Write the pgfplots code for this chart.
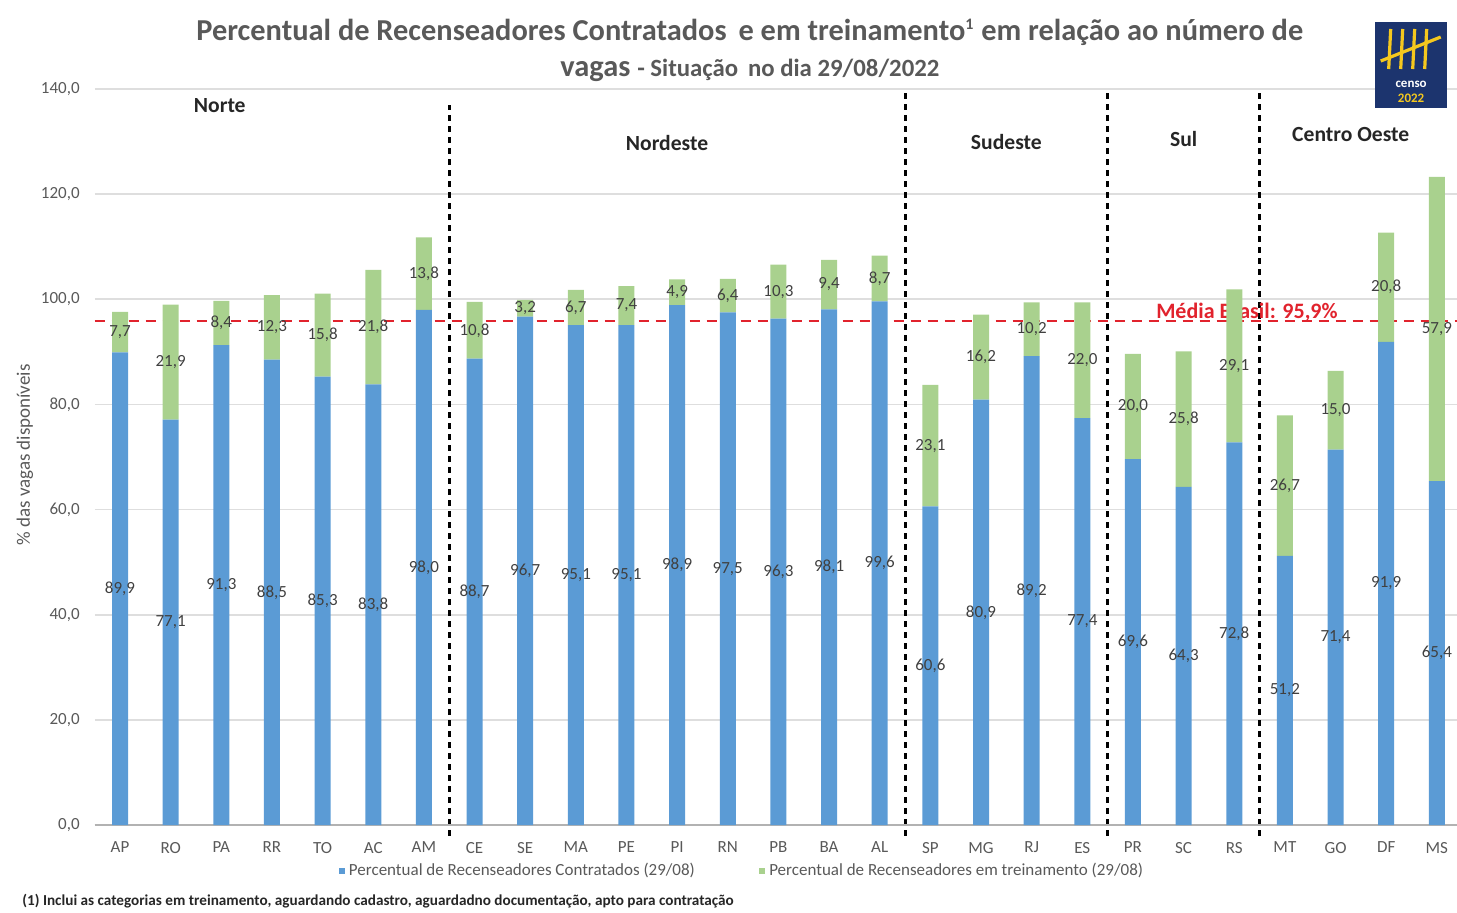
\documentclass[border=0pt]{standalone}
\usepackage{pgfplots}
\usepackage{pgfplotstable}
\pgfplotsset{compat=1.18}
\usepackage{fontspec}
\setmainfont{Carlito}
\definecolor{cblue}{RGB}{91,155,213}
\definecolor{cgreen}{RGB}{169,209,142}
\definecolor{tgray}{RGB}{89,89,89}
\definecolor{lgray}{RGB}{64,64,64}
\definecolor{mred}{RGB}{225,35,45}
\definecolor{navy}{RGB}{28,52,110}
\definecolor{gold}{RGB}{245,200,30}

\pgfplotstableread{
x lab c t
0 AP 89.9 7.7
1 RO 77.1 21.9
2 PA 91.3 8.4
3 RR 88.5 12.3
4 TO 85.3 15.8
5 AC 83.8 21.8
6 AM 98.0 13.8
7 CE 88.7 10.8
8 SE 96.7 3.2
9 MA 95.1 6.7
10 PE 95.1 7.4
11 PI 98.9 4.9
12 RN 97.5 6.4
13 PB 96.3 10.3
14 BA 98.1 9.4
15 AL 99.6 8.7
16 SP 60.6 23.1
17 MG 80.9 16.2
18 RJ 89.2 10.2
19 ES 77.4 22.0
20 PR 69.6 20.0
21 SC 64.3 25.8
22 RS 72.8 29.1
23 MT 51.2 26.7
24 GO 71.4 15.0
25 DF 91.9 20.8
26 MS 65.4 57.9
}\data

\begin{document}
\begin{tikzpicture}[x=1pt,y=1pt]
\path[use as bounding box] (-47.35,-43.5) rectangle (681.15,412.5);
\begin{axis}[
  at={(0,0)}, anchor=south west,
  scale only axis, width=681.2pt, height=368pt,
  ybar stacked, bar width=8pt,
  xmin=-0.5, xmax=26.4, ymin=0, ymax=140,
  clip=false,
  xtick=data, xticklabels from table={\data}{lab},
  ytick={0,20,...,140},
  yticklabel style={xshift=-4pt, /pgf/number format/.cd, fixed, fixed zerofill, precision=1, use comma, assume math mode=true},
  xticklabel style={yshift=-5pt},
  ticklabel style={font=\fontsize{8.5}{10}\selectfont, text=tgray},
  axis line style={draw=none},
  tick style={draw=none},
  ymajorgrids,
  grid style={draw=black!13, line width=0.8pt},
  point meta=rawy,
  nodes near coords={\pgfmathprintnumber[fixed,fixed zerofill,precision=1,use comma,assume math mode=true]{\pgfplotspointmeta}},
  nodes near coords style={font=\fontsize{8.5}{10}\selectfont, text=lgray, anchor=center},
  legend style={at={(0.4757,-0.0625)}, anchor=center, draw=none, fill=none, legend columns=2,
    font=\fontsize{8.5}{10}\selectfont, text=tgray,
    /tikz/every even column/.append style={column sep=30pt}},
  legend image code/.code={\fill[#1] (0pt,-1.6pt) rectangle (3.2pt,1.6pt);},
]
\addplot[fill=cblue, draw=none] table[x=x, y=c]{\data};
\addlegendentry{Percentual de Recenseadores Contratados (29/08)}
\addplot[fill=cgreen, draw=none] table[x=x, y=t]{\data};
\addlegendentry{Percentual de Recenseadores em treinamento (29/08)}

\draw[black!30, line width=0.8pt] (axis cs:-0.5,0) -- (axis cs:26.4,0);
\draw[mred, line width=1.3pt, dash pattern=on 5pt off 3.5pt] (axis cs:-0.5,95.9) -- (axis cs:26.4,95.9);

\node[font=\bfseries\fontsize{10.8}{12}\selectfont, text=black!85] at (axis cs:1.97,136.8) {Norte};
\node[font=\bfseries\fontsize{10.8}{12}\selectfont, text=black!85] at (axis cs:10.8,129.7) {Nordeste};
\node[font=\bfseries\fontsize{10.8}{12}\selectfont, text=black!85] at (axis cs:17.5,129.9) {Sudeste};
\node[font=\bfseries\fontsize{10.8}{12}\selectfont, text=black!85] at (axis cs:21.0,130.5) {Sul};
\node[font=\bfseries\fontsize{10.8}{12}\selectfont, text=black!85] at (axis cs:24.3,131.3) {Centro Oeste};
\node[font=\bfseries\fontsize{11}{12}\selectfont, text=mred] at (axis cs:22.25,97.6) {Média Brasil: 95,9\%};

\draw[black, line width=1.5pt, dash pattern=on 3pt off 2.5pt] (axis cs:6.5,-2) -- (axis cs:6.5,137);
\draw[black, line width=1.5pt, dash pattern=on 3pt off 2.5pt] (axis cs:15.5,-2) -- (axis cs:15.5,139.5);
\draw[black, line width=1.5pt, dash pattern=on 3pt off 2.5pt] (axis cs:19.5,-2) -- (axis cs:19.5,139.5);
\draw[black, line width=1.5pt, dash pattern=on 3pt off 2.5pt] (axis cs:22.5,-2) -- (axis cs:22.5,139.5);
\end{axis}

% title
\node[font=\bfseries\fontsize{15.2}{18}\selectfont, text=tgray] at (327.6,396.5) {Percentual de Recenseadores Contratados\, e em treinamento\textsuperscript{\fontsize{8}{9}\selectfont 1} em relação ao número de};
\node[font=\bfseries, text=tgray] at (327.6,377.5) {\fontsize{15.2}{18}\selectfont vagas \fontsize{12.4}{14}\selectfont - Situação\, no dia 29/08/2022};

% y label
\node[rotate=90, font=\fontsize{9.5}{11}\selectfont, text=tgray] at (-34.85,185) {\% das vagas disponíveis};

% footnote
\node[anchor=west, font=\bfseries\fontsize{7.6}{9}\selectfont, text=black!85, inner sep=0pt] at (-36.35,-38) {(1) Inclui as categorias em treinamento, aguardando cadastro, aguardadno documentação, apto para contratação};

% logo
\fill[navy] (640.2,358.5) rectangle (676.2,401.5);
\draw[gold, line width=1.6pt] (648,398) -- (647,378) (654,398) -- (653,378) (660,398) -- (659,378) (666,398) -- (665,378);
\draw[gold, line width=1.6pt] (643,382) -- (673,394);
\node[font=\bfseries\fontsize{6.5}{7}\selectfont, text=white, inner sep=0pt] at (658.2,370.5) {censo};
\node[font=\bfseries\fontsize{6.5}{7}\selectfont, text=gold, inner sep=0pt] at (658.2,363.5) {2022};
\end{tikzpicture}
\end{document}
